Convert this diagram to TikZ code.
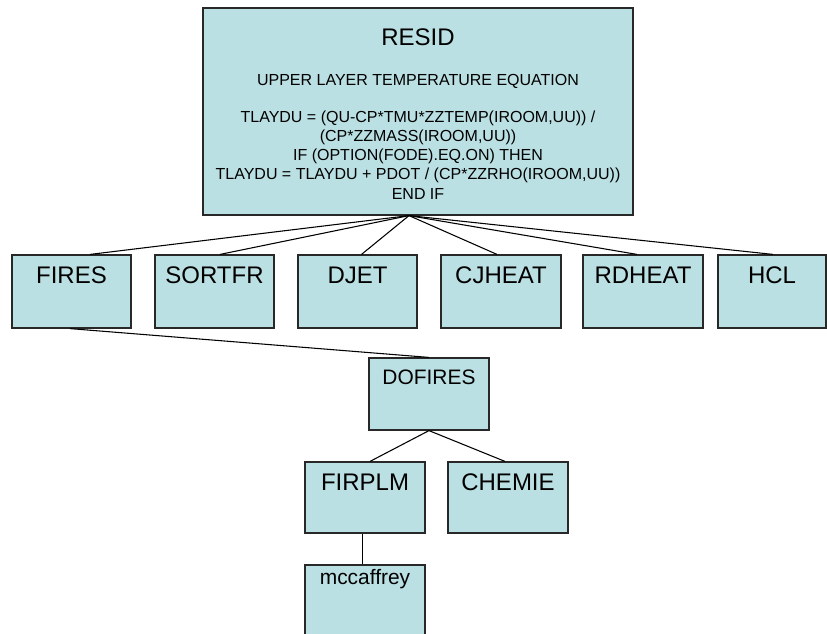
\documentclass[tikz,border=0pt]{standalone}
\usepackage{fontspec}
\setmainfont{Liberation Sans}
\usetikzlibrary{calc}
\definecolor{boxfill}{RGB}{187,224,227}
\definecolor{boxline}{RGB}{40,40,40}
\tikzset{
  box/.style={draw=boxline, fill=boxfill, line width=0.9pt, rectangle, inner sep=0pt},
  sz/.style 2 args={minimum width=#1*0.75pt, minimum height=#2*0.75pt},
  toplabel/.style n args={3}{label={[anchor=north, inner sep=0pt, yshift=-#2, font=\fontsize{#1}{#1}\selectfont]north:#3}},
  big/.style={toplabel={18}{9.4pt}{#1}},
  mid/.style={toplabel={15.7}{8.8pt}{#1}},
  link/.style={draw=black, line width=0.8pt}
}
\begin{document}
\begin{tikzpicture}[x=0.75pt, y=-0.75pt]
  \useasboundingbox (0,0) rectangle (827,633);
  \clip (0,0) rectangle (827,633);

  % root routine and its equation text
  \node[box, sz={430}{207}] (resid) at (418,111.5) {};
  \node[anchor=north, inner sep=0pt, align=center,
        font=\fontsize{12}{14.3}\selectfont]
    (residtext) at ($(resid.north)+(0,21)$)
    {{\fontsize{18}{18}\selectfont RESID}\\[15.6pt]
     UPPER LAYER TEMPERATURE EQUATION\\[13.8pt]
     TLAYDU = (QU-CP*TMU*ZZTEMP(IROOM,UU)) /\\
     (CP*ZZMASS(IROOM,UU))\\
     IF (OPTION(FODE).EQ.ON) THEN\\
     TLAYDU = TLAYDU + PDOT / (CP*ZZRHO(IROOM,UU))\\
     END IF};

  % first level of calls
  \node[box, sz={119}{73}, big=FIRES]  (fires)  at (71.5,291.5) {};
  \node[box, sz={119}{73}, big=SORTFR] (sortfr) at (214.5,291.5) {};
  \node[box, sz={119}{73}, big=DJET]   (djet)   at (357.5,291.5) {};
  \node[box, sz={120}{73}, big=CJHEAT] (cjheat) at (501,291.5) {};
  \node[box, sz={120}{73}, big=RDHEAT] (rdheat) at (643,291.5) {};
  \node[box, sz={108}{73}, big=HCL]    (hcl)    at (772,291.5) {};

  % fire routines
  \node[box, sz={120}{72}, mid=DOFIRES] (dofires) at (429,394) {};
  \node[box, sz={120}{71}, big=FIRPLM]  (firplm)  at (365,497.5) {};
  \node[box, sz={120}{71}, big=CHEMIE]  (chemie)  at (508,497.5) {};
  \node[box, sz={120}{73}, toplabel={15.7}{3.8pt}{mccaffrey}] (mccaffrey) at (365,601.5) {};

  % call tree
  \coordinate (hub) at ($(resid.south)+(-9,0)$);
  \draw[link] (hub) -- ($(fires.north)+(18.5,0)$);
  \draw[link] (hub) -- ($(sortfr.north)+(5.5,0)$);
  \draw[link] (hub) -- ($(djet.north)+(4,0)$);
  \draw[link] (hub) -- ($(cjheat.north)+(-4,0)$);
  \draw[link] (hub) -- ($(rdheat.north)+(-6,0)$);
  \draw[link] (hub) -- ($(hcl.north)+(1,0)$);
  \draw[link] ($(fires.south)+(-1.5,0)$) -- (dofires.north);
  \draw[link] (dofires.south) -- ($(firplm.north)+(5,0)$);
  \draw[link] (dofires.south) -- ($(chemie.north)+(-3,0)$);
  \draw[link] ($(firplm.south)+(-2.5,0)$) -- ($(mccaffrey.north)+(-2.5,0)$);
\end{tikzpicture}
\end{document}
